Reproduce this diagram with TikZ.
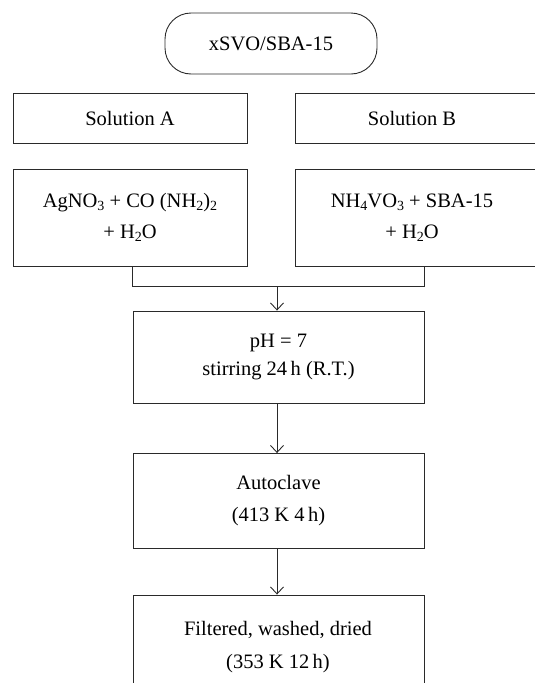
\documentclass[tikz,border=0pt]{standalone}
\usepackage{fontspec}
\setmainfont{Liberation Serif}
\usetikzlibrary{arrows.meta}
\definecolor{linec}{HTML}{2A2A2A}
\newcommand{\chsub}[1]{\raisebox{-0.35ex}{\fontsize{14}{14}\selectfont #1}}
\begin{document}
\begin{tikzpicture}[x=1pt,y=-1pt,
  box/.style={draw=linec, line width=0.9pt, rectangle, inner sep=0pt, align=center,
              font=\fontsize{20.5}{31}\selectfont},
  txt/.style={inner sep=0pt, align=center, font=\fontsize{20.5}{31}\selectfont},
  arr/.style={draw=linec, line width=0.9pt, -{Straight Barb[length=7pt,width=13pt]}},
  conn/.style={draw=linec, line width=0.9pt}]
\useasboundingbox (0,0) rectangle (535,683);
\clip (0,0) rectangle (535,683);
% top
\node[box, rounded corners=26pt, minimum width=212pt, minimum height=61pt] (top) at (271,43.5) {xSVO/SBA-15};
% solutions
\node[box, minimum width=234pt, minimum height=50pt] (solA) at (130,118) {Solution A};
\node[box, minimum width=260pt, minimum height=50pt] (solB) at (425,118) {};
\node[txt] (solBt) at (412,118) {Solution B};
% reagents
\node[box, minimum width=234pt, minimum height=97pt] (reA) at (130,217.5)
  {AgNO\chsub{3} + CO (NH\chsub{2})\chsub{2}\\+ H\chsub{2}O};
\node[box, minimum width=260pt, minimum height=97pt] (reB) at (425,217.5) {};
\node[txt] (reBt) at (412,217.5) {NH\chsub{4}VO\chsub{3} + SBA-15\\+ H\chsub{2}O};
% process
\node[box, minimum width=291pt, minimum height=92pt, font=\fontsize{20.5}{28}\selectfont] (ph) at (278.5,357)
  {pH = 7\\stirring 24\,h (R.T.)};
\node[box, minimum width=291pt, minimum height=95pt, font=\fontsize{20.5}{32}\selectfont] (auto) at (278.5,501)
  {Autoclave\\(413 K 4\,h)};
\node[box, minimum width=291pt, minimum height=130pt] (filt) at (278.5,660) {};
\node[txt, font=\fontsize{20.5}{33}\selectfont] (filtt) at (278,647) {Filtered, washed, dried\\(353 K 12\,h)};
% connectors
\coordinate (join) at (277,286);
\draw[conn] (reA.south -| ph.west) |- (join);
\draw[conn] (reB.south -| ph.east) |- (join);
\draw[arr] (join) -- (join |- ph.north);
\draw[arr] (ph.south -| join) -- (auto.north -| join);
\draw[arr] (auto.south -| join) -- (filt.north -| join);
\end{tikzpicture}
\end{document}
